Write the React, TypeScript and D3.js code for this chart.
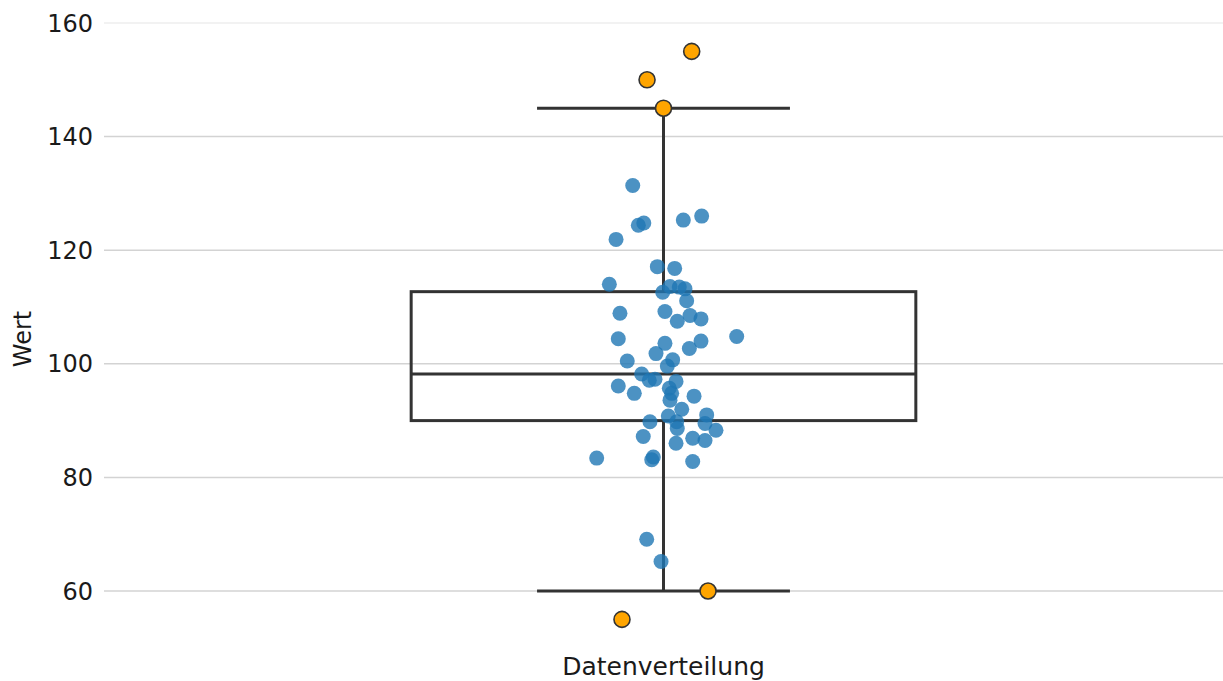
import React from "react";
import * as d3 from "d3";

// ---- data ----
const category = "Datenverteilung";
const yTicks = [60, 80, 100, 120, 140, 160];
// box statistics
const q1 = 90.0;
const median = 98.2;
const q3 = 112.7;
const whiskerLow = 60;
const whiskerHigh = 145;
// jittered observations: [horizontal jitter (category units), value]
const pointJitter = [
  -0.0275, -0.0225, -0.0176, -0.0424, 0.0177, 0.0341, -0.0055, 0.01, -0.0484, 0.0058,
  0.0141, 0.0192, -0.0007, 0.0207, -0.0389, 0.0013, 0.0123, 0.0237, 0.0335, 0.0654,
  -0.0404, 0.0013, 0.0335, 0.0231, -0.0067, -0.0324, 0.0082, 0.0034, -0.0195, -0.0127,
  -0.0076, -0.0404, -0.0261, 0.0112, 0.0052, 0.0073, 0.0058, 0.0273, 0.0163, 0.0386,
  -0.0121, 0.0043, 0.0118, 0.0123, 0.0371, 0.0469, -0.0181, 0.0261, 0.0371, 0.0112,
  -0.0597, -0.0091, -0.0105, 0.0261, -0.015, -0.0022,
];
const pointValues = [
  131.4, 124.4, 124.8, 121.9, 125.3, 126.0, 117.1, 116.8, 114.0, 113.6,
  113.5, 113.2, 112.6, 111.1, 108.9, 109.2, 107.5, 108.5, 107.9, 104.8,
  104.4, 103.6, 104.0, 102.7, 101.8, 100.5, 100.7, 99.6, 98.2, 97.1,
  97.3, 96.1, 94.8, 96.9, 95.7, 94.8, 93.6, 94.3, 92.0, 91.0,
  89.8, 90.8, 89.8, 88.6, 89.5, 88.3, 87.2, 86.9, 86.5, 86.0,
  83.4, 83.6, 83.1, 82.8, 69.1, 65.2,
];
const outlierJitter = [0.0252, -0.0147, 0, 0.0398, -0.0371];
const outlierValues = [155, 150, 145, 60, 55];

const W = 1223;
const H = 681;
const margin = { left: 104, right: 0, top: 23, bottom: 90 };

export default function App() {
  const y = d3.scaleLinear().domain([60, 160]).range([591, 23]);
  const x = d3.scaleLinear().domain([-0.5, 0.5]).range([margin.left, W]);
  const boxHalf = 0.2255;
  const capHalf = 0.113;
  const cx = x(0);
  const font = "DejaVu Sans, sans-serif";
  const dark = "#333333";

  return (
    <svg
      width={W}
      height={H}
      style={{ position: "absolute", left: 0, top: 0, background: "#fff" }}
    >
      {yTicks.map((t) => (
        <g key={t}>
          <line
            x1={margin.left}
            x2={W}
            y1={y(t)}
            y2={y(t)}
            stroke={t === 160 ? "#eeeeee" : "#d3d3d3"}
            strokeWidth={1.5}
          />
          <text
            x={93}
            y={y(t)}
            dy="0.36em"
            textAnchor="end"
            fontFamily={font}
            fontSize={24}
            fill="#1a1a1a"
          >
            {t}
          </text>
        </g>
      ))}
      <text
        transform={`translate(31,339) rotate(-90)`}
        textAnchor="middle"
        fontFamily={font}
        fontSize={24}
        fill="#1a1a1a"
      >
        Wert
      </text>
      <text
        x={cx}
        y={675}
        textAnchor="middle"
        fontFamily={font}
        fontSize={25}
        fill="#1a1a1a"
      >
        {category}
      </text>

      {/* whiskers */}
      <line x1={cx} x2={cx} y1={y(whiskerHigh)} y2={y(q3)} stroke={dark} strokeWidth={3} />
      <line x1={cx} x2={cx} y1={y(q1)} y2={y(whiskerLow)} stroke={dark} strokeWidth={3} />
      <line x1={x(-capHalf)} x2={x(capHalf)} y1={y(whiskerHigh)} y2={y(whiskerHigh)} stroke={dark} strokeWidth={3} />
      <line x1={x(-capHalf)} x2={x(capHalf)} y1={y(whiskerLow)} y2={y(whiskerLow)} stroke={dark} strokeWidth={3} />
      {/* box */}
      <rect
        x={x(-boxHalf)}
        y={y(q3)}
        width={x(boxHalf) - x(-boxHalf)}
        height={y(q1) - y(q3)}
        fill="none"
        stroke={dark}
        strokeWidth={3}
      />
      <line x1={x(-boxHalf)} x2={x(boxHalf)} y1={y(median)} y2={y(median)} stroke={dark} strokeWidth={3} />

      {/* points */}
      {pointValues.map((v, i) => (
        <circle
          key={i}
          cx={x(pointJitter[i])}
          cy={y(v)}
          r={7.5}
          fill="#1f77b4"
          fillOpacity={0.8}
        />
      ))}
      {outlierValues.map((v, i) => (
        <circle
          key={"o" + i}
          cx={x(outlierJitter[i])}
          cy={y(v)}
          r={8}
          fill="#ffa500"
          stroke={dark}
          strokeWidth={1.6}
        />
      ))}
    </svg>
  );
}
